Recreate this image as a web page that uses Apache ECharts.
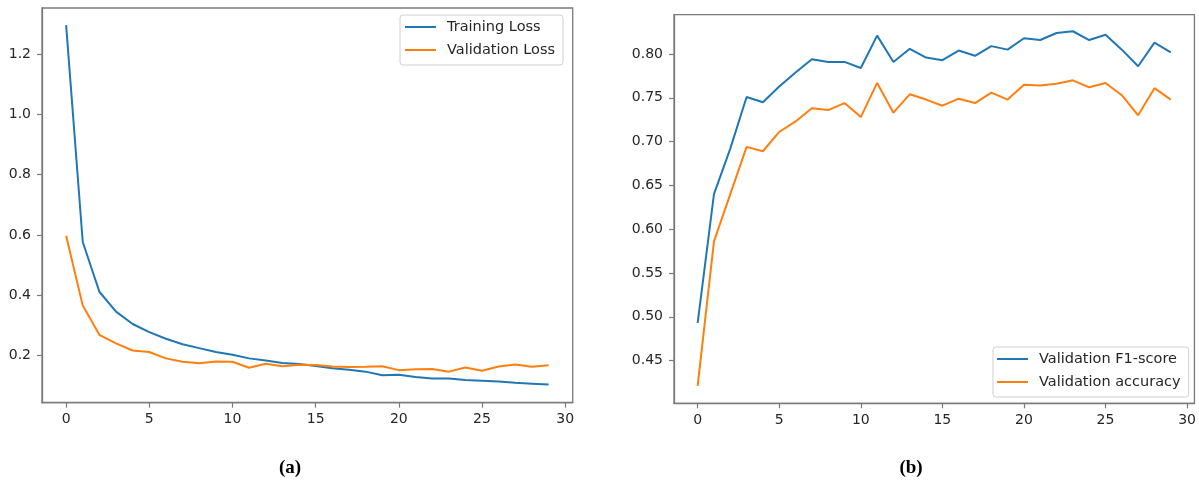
<!DOCTYPE html>
<html>
<head>
<meta charset="utf-8">
<script src="https://cdn.jsdelivr.net/npm/echarts@6/dist/echarts.min.js"></script>
<style>
html,body{margin:0;padding:0;background:#fff;}
#chart{width:1199px;height:481px;}
</style>
</head>
<body>
<div id="chart"></div>
<script>
const epochs = Array.from({length: 30}, (_, i) => i);
const xTicks = [0, 5, 10, 15, 20, 25, 30];
const lossTicks = [0.2, 0.4, 0.6, 0.8, 1.0, 1.2];
const metricTicks = [0.45, 0.50, 0.55, 0.60, 0.65, 0.70, 0.75, 0.80];

const trainingLoss = [1.296, 0.577, 0.412, 0.346, 0.305, 0.278, 0.256, 0.238, 0.225, 0.212,
  0.203, 0.191, 0.184, 0.176, 0.172, 0.166, 0.158, 0.153, 0.147, 0.135,
  0.137, 0.129, 0.124, 0.124, 0.119, 0.117, 0.114, 0.110, 0.107, 0.104];
const validationLoss = [0.598, 0.366, 0.269, 0.241, 0.217, 0.212, 0.191, 0.180, 0.175, 0.181,
  0.180, 0.160, 0.173, 0.165, 0.170, 0.169, 0.164, 0.162, 0.163, 0.165,
  0.152, 0.155, 0.156, 0.147, 0.161, 0.150, 0.164, 0.171, 0.163, 0.168];
const validationF1 = [0.493, 0.640, 0.692, 0.751, 0.745, 0.763, 0.779, 0.794, 0.791, 0.791,
  0.784, 0.821, 0.791, 0.806, 0.796, 0.793, 0.804, 0.798, 0.809, 0.805,
  0.818, 0.816, 0.824, 0.826, 0.816, 0.822, 0.805, 0.786, 0.813, 0.802];
const validationAcc = [0.421, 0.586, 0.640, 0.694, 0.689, 0.711, 0.723, 0.738, 0.736, 0.744,
  0.728, 0.767, 0.733, 0.754, 0.748, 0.741, 0.749, 0.744, 0.756, 0.748,
  0.765, 0.764, 0.766, 0.770, 0.762, 0.767, 0.753, 0.730, 0.761, 0.748];

const BLUE = '#1f77b4', ORANGE = '#ff7f0e';
const SPINE = '#7a7a7a';
const FONT = 'DejaVu Sans';

const pairs = arr => epochs.map((e, i) => [e, arr[i]]);

function xAxis(gridIndex) {
  return {
    type: 'value', gridIndex, min: -1.45, max: 30.45,
    axisLine: {show: true, onZero: false, lineStyle: {color: SPINE, width: 1.3}},
    axisTick: {show: true, length: 5, lineStyle: {color: SPINE, width: 1.2}, customValues: xTicks},
    axisLabel: {fontFamily: FONT, fontSize: 14, color: '#262626', margin: 10, customValues: xTicks,
      formatter: v => String(v)},
    splitLine: {show: false}
  };
}
function yAxis(gridIndex, min, max, ticks, dec) {
  return {
    type: 'value', gridIndex, min, max,
    axisLine: {show: true, onZero: false, lineStyle: {color: SPINE, width: 1.3}},
    axisTick: {show: true, length: 5, lineStyle: {color: SPINE, width: 1.2}, customValues: ticks},
    axisLabel: {fontFamily: FONT, fontSize: 14, color: '#262626', margin: 11, customValues: ticks,
      formatter: v => Number(v).toFixed(dec)},
    splitLine: {show: false}
  };
}
function line(name, data, color, xi, yi) {
  return {
    name, type: 'line', xAxisIndex: xi, yAxisIndex: yi, data: pairs(data),
    showSymbol: false, symbol: 'none', color,
    lineStyle: {color, width: 2}, z: 3
  };
}
function legend(names, left, top, padding) {
  return {
    data: names, orient: 'vertical', left, top, padding,
    icon: 'rect', itemWidth: 31, itemHeight: 2, itemGap: 5,
    backgroundColor: 'rgba(255,255,255,0.8)', borderColor: '#d0d0d0', borderWidth: 1, borderRadius: 3,
    textStyle: {fontFamily: FONT, fontSize: 14.5, color: '#262626', lineHeight: 18, padding: [0, 0, 0, 6]},
    selectedMode: false
  };
}

const chart = echarts.init(document.getElementById('chart'), null, {renderer: 'canvas'});
chart.setOption({
  animation: false,
  backgroundColor: '#ffffff',
  grid: [
    {left: 42, top: 8, width: 530.7, height: 394.7, show: true, borderColor: SPINE, borderWidth: 1.3, backgroundColor: 'transparent'},
    {left: 674, top: 14.7, width: 521.7, height: 388.6, show: true, borderColor: SPINE, borderWidth: 1.3, backgroundColor: 'transparent'}
  ],
  xAxis: [xAxis(0), xAxis(1)],
  yAxis: [yAxis(0, 0.044, 1.353, lossTicks, 1), yAxis(1, 0.4012, 0.8449, metricTicks, 2)],
  legend: [
    legend(['Training Loss', 'Validation Loss'], 400, 15, [3, 8, 6, 5]),
    legend(['Validation F1-score', 'Validation accuracy'], 993, 347, [3, 8, 6, 4])
  ],
  series: [
    line('Training Loss', trainingLoss, BLUE, 0, 0),
    line('Validation Loss', validationLoss, ORANGE, 0, 0),
    line('Validation F1-score', validationF1, BLUE, 1, 1),
    line('Validation accuracy', validationAcc, ORANGE, 1, 1)
  ],
  graphic: [
    {type: 'text', x: 290, y: 468, style: {text: '(a)', font: 'bold 19px "Liberation Serif"', fill: '#000', textAlign: 'center', textVerticalAlign: 'middle'}},
    {type: 'text', x: 911, y: 468, style: {text: '(b)', font: 'bold 19px "Liberation Serif"', fill: '#000', textAlign: 'center', textVerticalAlign: 'middle'}}
  ]
});
</script>
</body>
</html>
